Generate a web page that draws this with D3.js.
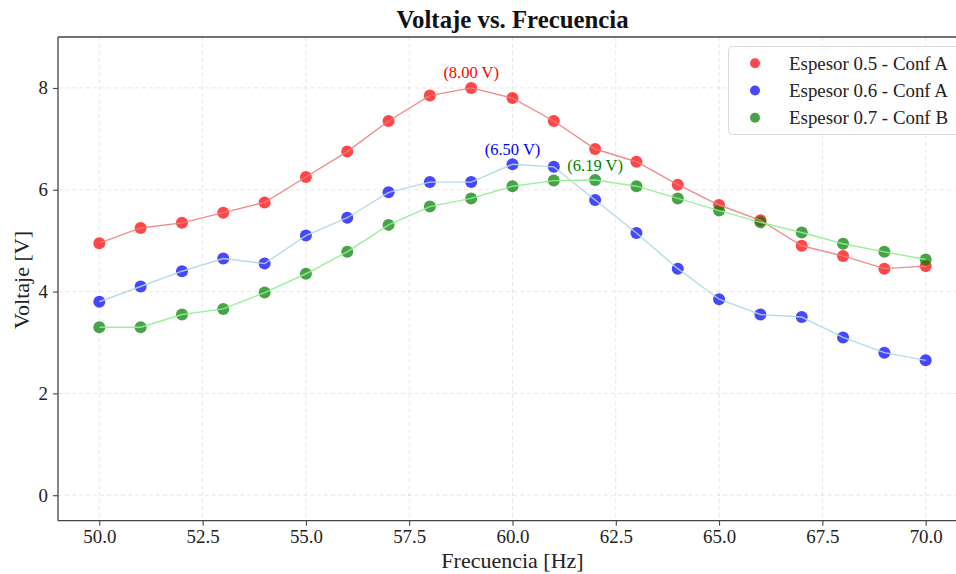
<!DOCTYPE html>
<html><head><meta charset="utf-8">
<script src="https://cdn.jsdelivr.net/npm/d3@7"></script>
<style>body{margin:0;background:#fff;overflow:hidden}svg{display:block}</style>
</head><body>
<svg id="c" width="956" height="574"></svg>
<script>
const freq = [50,51,52,53,54,55,56,57,58,59,60,61,62,63,64,65,66,67,68,69,70];
const v05A = [4.95,5.25,5.35,5.55,5.75,6.25,6.75,7.35,7.85,8.00,7.80,7.35,6.80,6.55,6.10,5.70,5.40,4.90,4.70,4.45,4.50];
const v06A = [3.80,4.10,4.40,4.65,4.55,5.10,5.45,5.95,6.15,6.15,6.50,6.45,5.80,5.15,4.45,3.85,3.55,3.50,3.10,2.80,2.65];
const v07B = [3.30,3.30,3.55,3.66,3.98,4.35,4.78,5.31,5.67,5.83,6.07,6.18,6.19,6.07,5.83,5.59,5.36,5.16,4.94,4.78,4.63];
const seriesNames = ["Espesor 0.5 - Conf A","Espesor 0.6 - Conf A","Espesor 0.7 - Conf B"];
const xTicks = [50,52.5,55,57.5,60,62.5,65,67.5,70];
const yTicks = [0,2,4,6,8];
const title = "Voltaje vs. Frecuencia", xLabel = "Frecuencia [Hz]", yLabel = "Voltaje [V]";

const series = [
  {name: seriesNames[0], values: v05A, point: "#ff0000", line: "#f08080", text: "#ff0000"},
  {name: seriesNames[1], values: v06A, point: "#0000ff", line: "#add8e6", text: "#0000ff"},
  {name: seriesNames[2], values: v07B, point: "#008000", line: "#90ee90", text: "#008000"}
];

const svg = d3.select("#c");
const L = 58, R = 967, T = 37, B = 520.7;
const x = d3.scaleLinear().domain([49, 71]).range([L, R]);
const y = d3.scaleLinear().domain([-0.5, 9]).range([B, T]);
const font = "'Liberation Serif','Times New Roman',serif";

// grid
const g = svg.append("g");
g.selectAll(".gx").data(xTicks).enter().append("line")
  .attr("x1", d => x(d)).attr("x2", d => x(d)).attr("y1", T).attr("y2", B)
  .attr("stroke", "#b0b0b0").attr("stroke-opacity", 0.3).attr("stroke-dasharray", "4,3").attr("stroke-width", 1);
g.selectAll(".gy").data(yTicks).enter().append("line")
  .attr("y1", d => y(d)).attr("y2", d => y(d)).attr("x1", L).attr("x2", R)
  .attr("stroke", "#b0b0b0").attr("stroke-opacity", 0.3).attr("stroke-dasharray", "4,3").attr("stroke-width", 1);

// axes
const xa = svg.append("g").attr("transform", `translate(0,${B})`)
  .call(d3.axisBottom(x).tickValues(xTicks).tickFormat(d3.format(".1f")).tickSize(5).tickPadding(4));
const ya = svg.append("g").attr("transform", `translate(${L},0)`)
  .call(d3.axisLeft(y).tickValues(yTicks).tickFormat(d3.format("d")).tickSize(5).tickPadding(5));
[xa, ya].forEach(a => {
  a.select(".domain").remove();
  a.selectAll("line").attr("stroke", "#333");
  a.selectAll("text").attr("font-family", font).attr("font-size", 18.9).attr("fill", "#222");
});
// spines
svg.append("line").attr("x1", L).attr("x2", L).attr("y1", T).attr("y2", B).attr("stroke", "#444").attr("stroke-width", 1.3);
svg.append("line").attr("x1", L).attr("x2", R).attr("y1", B).attr("y2", B).attr("stroke", "#444").attr("stroke-width", 1.3);
svg.append("line").attr("x1", L).attr("x2", R).attr("y1", T).attr("y2", T).attr("stroke", "#444").attr("stroke-width", 1.3);

// points then lines
series.forEach(s => {
  svg.append("g").selectAll("circle").data(freq).enter().append("circle")
    .attr("cx", d => x(d)).attr("cy", (d, i) => y(s.values[i])).attr("r", 6)
    .attr("fill", s.point).attr("fill-opacity", 0.72);
});
series.forEach(s => {
  const line = d3.line().x(d => x(d)).y((d, i) => y(s.values[i]));
  svg.append("path").datum(freq).attr("d", line).attr("fill", "none")
    .attr("stroke", s.line).attr("stroke-width", 1.4).attr("stroke-opacity", 0.9);
});

// annotations of max
series.forEach(s => {
  const mi = d3.maxIndex(s.values);
  svg.append("text").attr("x", x(freq[mi])).attr("y", y(s.values[mi]) - 9.5)
    .attr("text-anchor", "middle").attr("font-family", font).attr("font-size", 16.5)
    .attr("fill", s.text).text(`(${s.values[mi].toFixed(2)} V)`);
});

// title and labels
svg.append("text").attr("x", 512.5).attr("y", 28).attr("text-anchor", "middle")
  .attr("font-family", font).attr("font-size", 24.8).attr("font-weight", "bold").attr("fill", "#111").text(title);
svg.append("text").attr("x", 512.5).attr("y", 568).attr("text-anchor", "middle")
  .attr("font-family", font).attr("font-size", 22).attr("fill", "#222").text(xLabel);
svg.append("text").attr("transform", "translate(28.5,280) rotate(-90)").attr("text-anchor", "middle")
  .attr("font-family", font).attr("font-size", 22).attr("fill", "#222").text(yLabel);

// legend
const lg = svg.append("g");
lg.append("rect").attr("x", 728.5).attr("y", 46.5).attr("width", 250).attr("height", 88).attr("rx", 4)
  .attr("fill", "#fff").attr("fill-opacity", 0.85).attr("stroke", "#d9d9d9").attr("stroke-width", 1);
series.forEach((s, i) => {
  const cy = 63.3 + i * 27.2;
  lg.append("circle").attr("cx", 755).attr("cy", cy).attr("r", 5).attr("fill", s.point).attr("fill-opacity", 0.72);
  lg.append("text").attr("x", 789).attr("y", cy + 6.2).attr("font-family", font).attr("font-size", 18.9)
    .attr("fill", "#222").text(s.name);
});
</script>
</body></html>
